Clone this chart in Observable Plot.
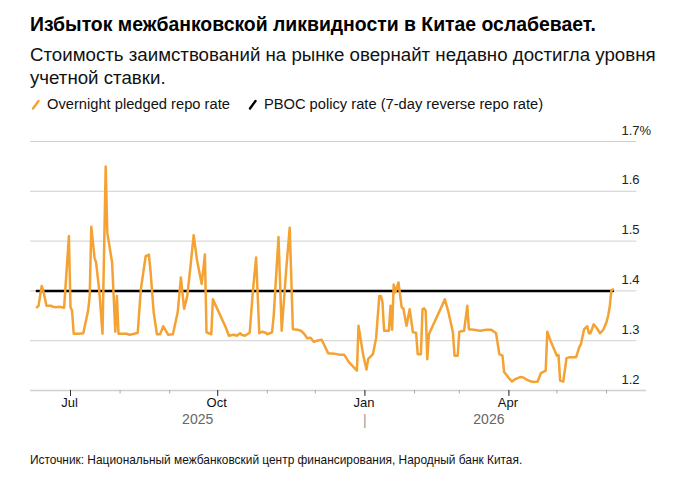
<!DOCTYPE html>
<html><head><meta charset="utf-8">
<script src="https://cdn.jsdelivr.net/npm/d3@7"></script>
<script src="https://cdn.jsdelivr.net/npm/@observablehq/plot@0.6"></script>
<style>
body{margin:0;background:#fff;font-family:"Liberation Sans",Arial,sans-serif;width:684px;height:484px;position:relative;overflow:hidden;color:#111}
#title{position:absolute;left:30px;top:11px;font-size:19.4px;font-weight:bold;line-height:26px;color:#000;white-space:nowrap}
#subtitle{position:absolute;left:30px;top:43px;font-size:18.7px;line-height:23px;color:#111;white-space:nowrap}
#legend{position:absolute;left:30px;top:93px;font-size:14.7px;line-height:22px;display:flex;align-items:center;white-space:nowrap}
#legend .sw{display:inline-block;width:12px;height:12px;margin-right:5px}
#legend .item{display:flex;align-items:center;margin-right:17px}
#chart{position:absolute;left:0;top:118px}
#footer{position:absolute;left:30px;top:452px;font-size:11.9px;line-height:16px;color:#111;white-space:nowrap}
</style>
</head><body>
<div id="title">Избыток межбанковской ликвидности в Китае ослабевает.</div>
<div id="subtitle">Стоимость заимствований на рынке овернайт недавно достигла уровня<br>учетной ставки.</div>
<div id="legend"></div>
<div id="chart"></div>
<div id="footer">Источник: Национальный межбанковский центр финансирования, Народный банк Китая.</div>
<script>
const seriesNames = ["Overnight pledged repo rate", "PBOC policy rate (7-day reverse repo rate)"];
const seriesColors = ["#f4a233", "#000000"];

const repoDates = [
"2025-06-10","2025-06-11","2025-06-13","2025-06-14","2025-06-16","2025-06-19","2025-06-20","2025-06-22","2025-06-24","2025-06-27",
"2025-06-30","2025-07-01","2025-07-02","2025-07-03","2025-07-06","2025-07-09","2025-07-12","2025-07-13","2025-07-14","2025-07-16",
"2025-07-17","2025-07-19","2025-07-21","2025-07-23","2025-07-24","2025-07-27","2025-07-29","2025-07-30","2025-07-31","2025-08-05",
"2025-08-07","2025-08-10","2025-08-12","2025-08-14","2025-08-17","2025-08-19","2025-08-20","2025-08-22","2025-08-24","2025-08-26",
"2025-08-28","2025-08-31","2025-09-03","2025-09-06","2025-09-08","2025-09-10","2025-09-12","2025-09-14","2025-09-16","2025-09-18",
"2025-09-21","2025-09-23","2025-09-24","2025-09-27","2025-09-28","2025-10-06","2025-10-08","2025-10-11","2025-10-13","2025-10-15",
"2025-10-16","2025-10-18","2025-10-21","2025-10-23","2025-10-25","2025-10-27","2025-10-29","2025-10-31","2025-11-01","2025-11-04",
"2025-11-05","2025-11-08","2025-11-10","2025-11-13","2025-11-15","2025-11-17","2025-11-20","2025-11-22","2025-11-24","2025-11-26",
"2025-11-28","2025-11-30","2025-12-02","2025-12-05","2025-12-09","2025-12-13","2025-12-16","2025-12-19","2025-12-22","2025-12-27",
"2025-12-28","2025-12-31","2026-01-02","2026-01-03","2026-01-06","2026-01-08","2026-01-10","2026-01-11","2026-01-12","2026-01-13",
"2026-01-16","2026-01-17","2026-01-18","2026-01-19","2026-01-20","2026-01-22","2026-01-24","2026-01-25","2026-01-27","2026-01-29",
"2026-01-30","2026-01-31","2026-02-02","2026-02-03","2026-02-05","2026-02-06","2026-02-07","2026-02-08","2026-02-09","2026-02-10",
"2026-02-20","2026-02-22","2026-02-25","2026-02-26","2026-02-28","2026-03-01","2026-03-04","2026-03-06","2026-03-07","2026-03-10",
"2026-03-14","2026-03-18","2026-03-21","2026-03-24","2026-03-26","2026-03-28","2026-03-29","2026-04-01","2026-04-03","2026-04-05",
"2026-04-08","2026-04-10","2026-04-12","2026-04-15","2026-04-17","2026-04-19","2026-04-21","2026-04-24","2026-04-25","2026-04-27",
"2026-04-29","2026-05-01","2026-05-02","2026-05-03","2026-05-05","2026-05-07","2026-05-09","2026-05-13","2026-05-15","2026-05-16",
"2026-05-18","2026-05-20","2026-05-21","2026-05-22","2026-05-24","2026-05-26","2026-05-28","2026-05-30","2026-06-01","2026-06-02",
"2026-06-03","2026-06-04","2026-06-05"];
const repoValues = [
1.367,1.37,1.41,1.40,1.37,1.37,1.368,1.367,1.368,1.366,
1.51,1.367,1.36,1.314,1.314,1.315,1.36,1.39,1.529,1.467,
1.457,1.40,1.314,1.65,1.517,1.457,1.318,1.39,1.314,1.314,
1.312,1.314,1.316,1.404,1.47,1.473,1.44,1.357,1.313,1.313,
1.329,1.312,1.313,1.357,1.427,1.364,1.39,1.45,1.512,1.463,
1.414,1.473,1.317,1.313,1.383,1.327,1.31,1.312,1.31,1.315,
1.312,1.31,1.316,1.40,1.467,1.315,1.318,1.316,1.313,1.317,
1.35,1.508,1.32,1.45,1.527,1.323,1.322,1.32,1.314,1.305,
1.306,1.298,1.30,1.302,1.275,1.274,1.272,1.272,1.257,1.24,
1.33,1.27,1.242,1.263,1.273,1.305,1.39,1.39,1.377,1.32,
1.32,1.37,1.322,1.413,1.397,1.417,1.367,1.365,1.33,1.363,
1.34,1.317,1.316,1.273,1.273,1.363,1.365,1.36,1.263,1.313,
1.383,1.36,1.317,1.27,1.27,1.318,1.32,1.37,1.323,1.322,
1.32,1.322,1.322,1.315,1.273,1.27,1.237,1.225,1.218,1.223,
1.227,1.226,1.222,1.218,1.217,1.218,1.235,1.24,1.318,1.30,
1.285,1.27,1.271,1.22,1.218,1.265,1.267,1.267,1.287,1.293,
1.323,1.329,1.315,1.315,1.333,1.325,1.315,1.322,1.337,1.35,
1.367,1.40,1.403];

const policyDates = ["2025-06-10", "2026-06-05"];
const policyValues = [1.40, 1.40];

const yTicks = [1.2, 1.3, 1.4, 1.5, 1.6, 1.7];
const yTickLabels = ["1.2", "1.3", "1.4", "1.5", "1.6", "1.7%"];
const majorTickDates = ["2025-07-01", "2025-10-01", "2026-01-01", "2026-04-01"];
const majorTickLabels = ["Jul", "Oct", "Jan", "Apr"];
const yearLabels = ["2025", "2026"];
const xStart = "2025-06-06", xEnd = "2026-06-26", gridEnd = "2026-06-20";

// legend
const legend = document.getElementById("legend");
seriesNames.forEach((n, i) => {
  const it = document.createElement("span");
  it.className = "item";
  it.innerHTML = `<svg class="sw" viewBox="0 0 12 12"><line x1="3" y1="10.5" x2="8.5" y2="3" stroke="${seriesColors[i]}" stroke-width="2.4" stroke-linecap="round"/></svg><span>${n}</span>`;
  legend.appendChild(it);
});

const P = s => new Date(s);
const repo = repoDates.map((d, i) => ({date: P(d), value: repoValues[i]}));
const policy = policyDates.map((d, i) => ({date: P(d), value: policyValues[i]}));
const yTickData = yTicks.map((v, i) => ({v, label: yTickLabels[i]}));
const majors = majorTickDates.map((d, i) => ({date: P(d), label: majorTickLabels[i]}));
const minors = d3.utcMonth.range(P(xStart), P(xEnd));
const jan1 = P("2026-01-01");
const d0 = P(xStart), dLast = repo[repo.length - 1].date;
const yearData = [
  {date: new Date((+d0 + +jan1) / 2), label: yearLabels[0]},
  {date: new Date((+jan1 + +dLast) / 2), label: yearLabels[1]}
];

const chart = Plot.plot({
  width: 684,
  height: 318,
  marginLeft: 30,
  marginRight: 38,
  marginTop: 23,
  marginBottom: 46,
  style: {fontFamily: "'Liberation Sans', Arial, sans-serif", background: "transparent", overflow: "visible"},
  x: {type: "utc", domain: [P(xStart), P(xEnd)], axis: null},
  y: {domain: [1.2, 1.7], axis: null},
  marks: [
    Plot.ruleY(yTicks.slice(1), {x1: P(xStart), x2: P(gridEnd), stroke: "#d0d0d0", strokeWidth: 1}),
    Plot.ruleY([1.2], {stroke: "#d0d0d0", strokeWidth: 1.5}),
    Plot.axisX({ticks: minors, tickSize: 3.5, stroke: "#aaa", tickFormat: () => "", label: null}),
    Plot.axisX({ticks: majors.map(d => d.date), tickSize: 6, stroke: "#333", tickFormat: () => "", label: null}),
    Plot.text(majors, {x: "date", text: "label", frameAnchor: "bottom", dx: -1, dy: 16.5, fontSize: 13, fill: "#111"}),
    Plot.text(yearData, {x: "date", text: "label", frameAnchor: "bottom", dy: 33.5, fontSize: 14, fill: "#666"}),
    Plot.text([jan1], {x: d => d, text: () => "|", frameAnchor: "bottom", dy: 34, fontSize: 14, fill: "#999"}),
    Plot.text(yTickData, {y: "v", text: "label", frameAnchor: "right", textAnchor: "start", dx: -25, dy: -11, fontSize: 13, fill: "#222"}),
    Plot.line(policy, {x: "date", y: "value", stroke: seriesColors[1], strokeWidth: 2.5}),
    Plot.line(repo, {x: "date", y: "value", stroke: seriesColors[0], strokeWidth: 2.5, strokeLinejoin: "round"})
  ]
});
document.getElementById("chart").appendChild(chart);
</script>
</body></html>
